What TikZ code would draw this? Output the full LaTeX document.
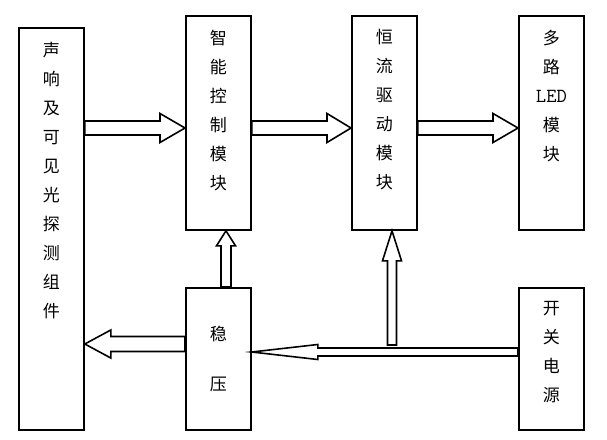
\documentclass[tikz,border=0pt]{standalone}
\usepackage{fontspec}
\setmainfont{Noto Sans CJK SC}
\usetikzlibrary{calc}
\tikzset{
  block/.style={
    draw,
    line width=1.8pt,
    inner sep=0pt,
    anchor=north west,
    minimum width=65pt
  },
  blocktext/.style={
    anchor=north,
    yshift=-14.5pt,
    align=center,
    inner sep=0pt,
    font=\fontsize{17}{29}\selectfont
  },
  hollow/.style={
    line width=1.6pt,
    line join=miter
  }
}
% hollow block arrow: start, tip, shaft half width, head half width, head length
\newcommand{\hollowarrow}[5]{
\draw[hollow] let \p1=(#1), \p2=(#2), \n1={atan2(\y2-\y1,\x2-\x1)} in
($(\p1)+({\n1+90}:#3)$) -- ($(\p2)+({\n1+180}:#5)+({\n1+90}:#3)$)
-- ($(\p2)+({\n1+180}:#5)+({\n1+90}:#4)$) -- (\p2)
-- ($(\p2)+({\n1+180}:#5)+({\n1-90}:#4)$)
-- ($(\p2)+({\n1+180}:#5)+({\n1-90}:#3)$)
-- ($(\p1)+({\n1-90}:#3)$) -- cycle;
}

\begin{document}
\begin{tikzpicture}[x=1pt,y=-1pt]
\useasboundingbox (0,0) rectangle (607,439);
\node[block, minimum height=402pt,
  label={[blocktext]north:声\\响\\及\\可\\见\\光\\探\\测\\组\\件}]
  (detector) at (18,27) {};
\node[block, minimum height=214pt,
  label={[blocktext]north:智\\能\\控\\制\\模\\块}]
  (control) at (185,15) {};
\node[block, minimum height=214pt,
  label={[blocktext]north:恒\\流\\驱\\动\\模\\块}]
  (driver) at (351,15) {};
\node[block, minimum height=214pt,
  label={[blocktext]north:多\\路\\{\ttfamily\fontsize{20}{29}\selectfont LED}\\模\\块}]
  (ledarray) at (518,15) {};
\node[block, minimum height=142pt,
  label={[blocktext, yshift=-24pt]north:稳\\[21pt]压}]
  (regulator) at (185,287) {};
\node[block, minimum height=142pt,
  label={[blocktext]north:开\\关\\电\\源}]
  (supply) at (518,287) {};

\coordinate (sigrow) at (0,128);
\coordinate (feedrow) at (0,344);
\coordinate (powerrow) at (0,352);
\coordinate (upcol) at (226,0);
\coordinate (tap) at (392,345);

\hollowarrow{detector.east |- sigrow}{control.west |- sigrow}{7pt}{14.5pt}{25pt}
\hollowarrow{control.east |- sigrow}{driver.west |- sigrow}{7pt}{14.5pt}{24pt}
\hollowarrow{driver.east |- sigrow}{ledarray.west |- sigrow}{7pt}{14.5pt}{25pt}
\hollowarrow{upcol |- regulator.north}{upcol |- control.south}{5pt}{9.5pt}{15pt}
\hollowarrow{regulator.west |- feedrow}{detector.east |- feedrow}{7.5pt}{14pt}{26pt}
\hollowarrow{supply.west |- powerrow}{regulator.east |- powerrow}{4pt}{7.5pt}{66pt}
\hollowarrow{tap}{tap |- driver.south}{4.5pt}{9.5pt}{30pt}
\end{tikzpicture}
\end{document}
